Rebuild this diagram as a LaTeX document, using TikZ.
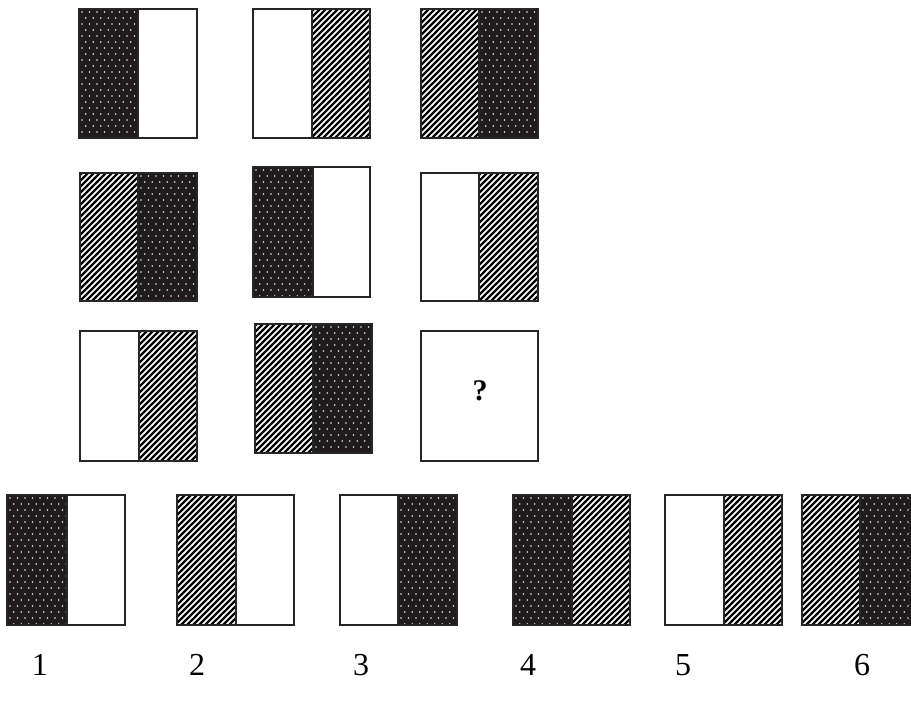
\documentclass[tikz,border=0pt]{standalone}
\usepackage{fontspec}
\setmainfont{Liberation Serif}
\definecolor{dotdark}{HTML}{1F1B1C}
\tikzset{
  frame/.style={draw=black!85, line width=1pt},
  hatchline/.style={line width=1.1pt, black},
  dotmark/.style={fill=white, fill opacity=0.9},
  numlabel/.style={font=\fontsize{16}{19}\selectfont, inner sep=0pt},
  qlabel/.style={font=\bfseries\fontsize{15}{17}\selectfont, inner sep=0pt},
}
% fill kinds: #1=x1 #2=y1 #3=x2 #4=y2
\newcommand\fillkindblank[4]{}
\newcommand\fillkindhatch[4]{%
  \begin{scope}
    \clip (#1,#2) rectangle (#3,#4);
    \pgfmathsetmacro\hh{#4-#2}
    \foreach \k in {0,...,34} \draw[hatchline] ({#1-\hh+\k*6},{#4+2}) -- ++({\hh+4},{-\hh-4});
  \end{scope}}
\newcommand\fillkinddot[4]{%
  \fill[dotdark] (#1,#2) rectangle (#3,#4);
  \begin{scope}
    \clip (#1,#2) rectangle (#3,#4);
    \foreach \r in {0,...,22} \foreach \c in {0,...,8}
      \fill[dotmark] ({#1+3+\c*7.5+mod(\r,2)*3.75},{#2+3+\r*6}) circle (0.85);
  \end{scope}}
% panel: #1 name, #2 x1, #3 y1, #4 x2, #5 y2, #6 split, #7 left kind, #8 right kind
\newcommand\panel[8]{%
  \csname fillkind#7\endcsname{#2}{#3}{#6}{#5}
  \csname fillkind#8\endcsname{#6}{#3}{#4}{#5}
  \draw[frame] (#2,#3) rectangle (#4,#5);
  \draw[frame] (#6,#3) -- (#6,#5);
  \coordinate (#1) at ({(#2+#4)/2},{(#3+#5)/2});}
\begin{document}
\begin{tikzpicture}[x=0.5pt,y=-0.5pt]
  \useasboundingbox (0,0) rectangle (911,704);
  \clip (0,0) rectangle (911,704);
  % row 1
  \panel{a1}{79}{9}{197}{138}{138}{dot}{blank}
  \panel{a2}{253}{9}{370}{138}{312}{blank}{hatch}
  \panel{a3}{421}{9}{538}{138}{479}{hatch}{dot}
  % row 2
  \panel{b1}{80}{173}{197}{301}{138}{hatch}{dot}
  \panel{b2}{253}{167}{370}{297}{313}{dot}{blank}
  \panel{b3}{421}{173}{538}{301}{479}{blank}{hatch}
  % row 3
  \panel{c1}{80}{331}{197}{461}{139}{blank}{hatch}
  \panel{c2}{255}{324}{372}{453}{313}{hatch}{dot}
  \draw[frame] (421,331) rectangle (538,461);
  \node[qlabel] (q) at (480,391) {?};
  % options
  \panel{o1}{7}{495}{125}{625}{67}{dot}{blank}
  \panel{o2}{177}{495}{294}{625}{236}{hatch}{blank}
  \panel{o3}{340}{495}{457}{625}{398}{blank}{dot}
  \panel{o4}{513}{495}{630}{625}{572}{dot}{hatch}
  \panel{o5}{665}{495}{782}{625}{724}{blank}{hatch}
  \panel{o6}{802}{495}{919}{625}{860}{hatch}{dot}
  % labels
  \node[numlabel] (n1) at (40,665) {1};
  \node[numlabel] (n2) at (197,665) {2};
  \node[numlabel] (n3) at (361,665) {3};
  \node[numlabel] (n4) at (528,665) {4};
  \node[numlabel] (n5) at (683,665) {5};
  \node[numlabel] (n6) at (862,665) {6};
\end{tikzpicture}
\end{document}
